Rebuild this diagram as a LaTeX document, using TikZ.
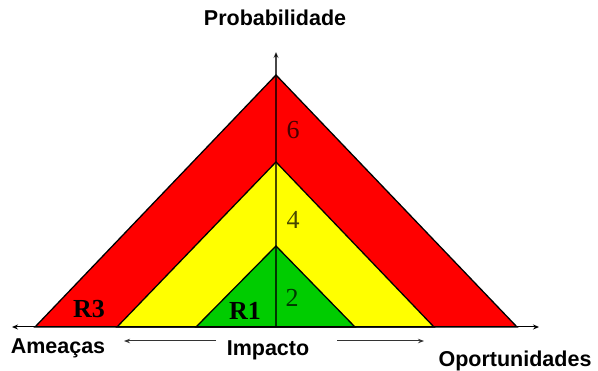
\documentclass[tikz,border=0pt]{standalone}
\usepackage{fontspec}
\setmainfont{Liberation Serif}
\setsansfont{Liberation Sans}
\usetikzlibrary{arrows.meta}
\definecolor{zred}{RGB}{255,0,0}
\definecolor{zyellow}{RGB}{255,255,0}
\definecolor{zgreen}{RGB}{0,204,0}
\tikzset{
  zone/.style={draw=black, line width=1.3pt, line join=miter},
  axislabel/.style={font=\sffamily\bfseries\fontsize{21.5}{24}\selectfont, anchor=base, inner sep=0pt},
  risklabel/.style={font=\rmfamily\bfseries\fontsize{26}{28}\selectfont, inner sep=0pt},
  levellabel/.style={font=\rmfamily\fontsize{26}{28}\selectfont, inner sep=0pt, text opacity=0.72},
  axis/.style={black, line width=1pt, -{Stealth[length=6pt,width=5pt]}},
  impact/.style={black!80, line width=1pt, -{Stealth[length=6pt,width=4.5pt]}}
}
\begin{document}
\begin{tikzpicture}[x=1pt,y=-1pt]
\useasboundingbox (0,0) rectangle (598,371);
% triangles
\draw[zone, fill=zred] (35,327) -- (276,75) -- (517,327) -- cycle;
\draw[zone, fill=zyellow] (117,327) -- (276,162) -- (434,327) -- cycle;
\draw[zone, fill=zgreen] (196,327) -- (276,246) -- (355,327) -- cycle;
% axes
\coordinate (o) at (276,327);
\coordinate (ptop) at (276,52);
\coordinate (hleft) at (12,327);
\coordinate (hright) at (539,327);
\draw[line width=1.2pt, draw opacity=0.72, -{Stealth[length=6pt,width=5pt]}] (o) -- (ptop);
\draw[axis, {Stealth[length=6pt,width=5pt]}-{Stealth[length=6pt,width=5pt]}] (hleft) -- (hright);
% impacto arrows
\coordinate (il0) at (216,341);
\coordinate (il1) at (124,341);
\coordinate (ir0) at (337,341);
\coordinate (ir1) at (424,341);
\draw[impact] (il0) -- (il1);
\draw[impact] (ir0) -- (ir1);
% labels
\node[axislabel] (prob) at (275,26) {Probabilidade};
\node[axislabel] (ame) at (58,354) {Amea\c{c}as};
\node[axislabel] (imp) at (268,356) {Impacto};
\node[axislabel] (opo) at (515,367) {Oportunidades};
\node[risklabel] (r3) at (89,309) {R3};
\node[risklabel] (r1) at (245,311) {R1};
\node[levellabel] (l6) at (293,130) {6};
\node[levellabel] (l4) at (293,220) {4};
\node[levellabel] (l2) at (292,298) {2};
\end{tikzpicture}
\end{document}
